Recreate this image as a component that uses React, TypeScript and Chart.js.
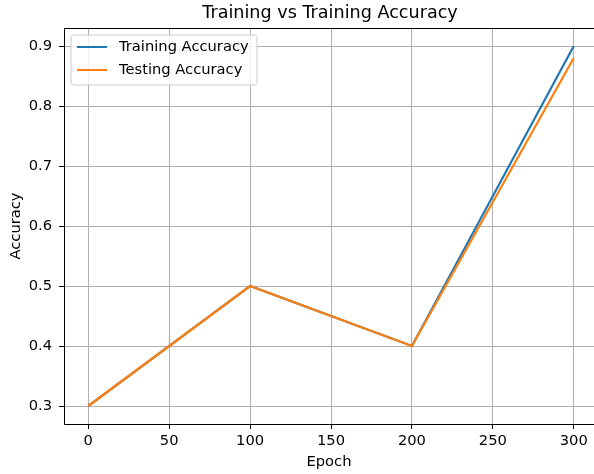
import React, { useEffect, useRef } from "react";
import { Chart, registerables } from "chart.js";

Chart.register(...registerables);

const epochs = [0, 100, 200, 300];
const trainingAccuracy = [0.3, 0.5, 0.4, 0.9];
const testingAccuracy = [0.3, 0.5, 0.4, 0.88];
const xTicks = [0, 50, 100, 150, 200, 250, 300];
const yTicks = [0.3, 0.4, 0.5, 0.6, 0.7, 0.8, 0.9];
const chartTitle = "Training vs Training Accuracy";
const xTitle = "Epoch";
const yTitle = "Accuracy";

const FONT = "'DejaVu Sans', sans-serif";
const BLUE = "#1f77b4";
const ORANGE = "#ff7f0e";
const TICK_FONT = 14.7;
const TITLE_FONT = 17.6;

const framePlugin = {
  id: "frame",
  afterDatasetsDraw(chart: any) {
    const { ctx, chartArea: a } = chart;
    const l = Math.round(a.left) + 0.5;
    const t = Math.round(a.top) + 0.5;
    const b = Math.round(a.bottom) + 0.5;
    const r = chart.width + 2;
    ctx.save();
    ctx.strokeStyle = "#000";
    ctx.lineWidth = 1;
    // left, top and bottom spines; the right spine lies past the picture's edge
    ctx.beginPath();
    ctx.moveTo(r, t);
    ctx.lineTo(l, t);
    ctx.lineTo(l, b);
    ctx.lineTo(r, b);
    ctx.stroke();
    ctx.restore();
  },
  afterDraw(chart: any) {
    const { ctx, chartArea: a } = chart;
    ctx.save();
    ctx.fillStyle = "#000";
    ctx.font = `${TITLE_FONT}px ${FONT}`;
    ctx.textAlign = "center";
    ctx.textBaseline = "middle";
    ctx.fillText(chartTitle, 330, 13);
    // legend
    const x0 = a.left + 7;
    const y0 = a.top + 7;
    const w = 186;
    const h = 50;
    const r = 3;
    ctx.beginPath();
    ctx.moveTo(x0 + r, y0);
    ctx.lineTo(x0 + w - r, y0);
    ctx.arcTo(x0 + w, y0, x0 + w, y0 + r, r);
    ctx.lineTo(x0 + w, y0 + h - r);
    ctx.arcTo(x0 + w, y0 + h, x0 + w - r, y0 + h, r);
    ctx.lineTo(x0 + r, y0 + h);
    ctx.arcTo(x0, y0 + h, x0, y0 + h - r, r);
    ctx.lineTo(x0, y0 + r);
    ctx.arcTo(x0, y0, x0 + r, y0, r);
    ctx.closePath();
    ctx.fillStyle = "rgba(255,255,255,0.8)";
    ctx.fill();
    ctx.strokeStyle = "#cccccc";
    ctx.lineWidth = 1;
    ctx.stroke();
    ctx.font = `${TICK_FONT}px ${FONT}`;
    ctx.textAlign = "left";
    ctx.textBaseline = "middle";
    chart.data.datasets.forEach((ds: any, i: number) => {
      const yy = y0 + 12 + i * 23;
      ctx.strokeStyle = ds.borderColor;
      ctx.lineWidth = 2;
      ctx.beginPath();
      ctx.moveTo(x0 + 6, yy);
      ctx.lineTo(x0 + 36, yy);
      ctx.stroke();
      ctx.fillStyle = "#000";
      ctx.fillText(ds.label, x0 + 48, yy);
    });
    ctx.restore();
  },
};

export default function App() {
  const ref = useRef<HTMLCanvasElement>(null);
  useEffect(() => {
    if (!ref.current) return;
    const chart = new Chart(ref.current, {
      type: "line",
      data: {
        datasets: [
          {
            label: "Training Accuracy",
            data: epochs.map((e, i) => ({ x: e, y: trainingAccuracy[i] })),
            borderColor: BLUE,
            backgroundColor: BLUE,
            borderWidth: 2.2,
            pointRadius: 0,
            tension: 0,
            order: 1,
          },
          {
            label: "Testing Accuracy",
            data: epochs.map((e, i) => ({ x: e, y: testingAccuracy[i] })),
            borderColor: ORANGE,
            backgroundColor: ORANGE,
            borderWidth: 2.2,
            pointRadius: 0,
            tension: 0,
            order: 0,
          },
        ],
      },
      options: {
        responsive: false,
        animation: false,
        devicePixelRatio: 1,
        layout: { padding: { top: 28, right: 0, left: 0, bottom: 0 } },
        plugins: {
          legend: { display: false },
          title: { display: false },
          tooltip: { enabled: false },
        },
        scales: {
          x: {
            type: "linear",
            min: -15,
            max: 312.5,
            afterBuildTicks: (s: any) => {
              s.ticks = xTicks.map((v) => ({ value: v }));
            },
            afterFit: (s: any) => {
              s.height = 50;
              s.paddingLeft = 0;
              s.paddingRight = 0;
            },
            grid: { color: "#b0b0b0", lineWidth: 1, tickColor: "#000", tickLength: 5 },
            border: { display: false },
            ticks: {
              color: "#000",
              font: { family: FONT, size: TICK_FONT },
              padding: 3,
              maxRotation: 0,
              callback: (v: any) => String(v),
            },
            title: {
              display: true,
              text: xTitle,
              color: "#000",
              font: { family: FONT, size: TICK_FONT },
              padding: { top: 0, bottom: 3 },
            },
          },
          y: {
            type: "linear",
            min: 0.27,
            max: 0.93,
            afterBuildTicks: (s: any) => {
              s.ticks = yTicks.map((v) => ({ value: v }));
            },
            afterFit: (s: any) => {
              s.width = 64;
              s.paddingTop = 0;
              s.paddingBottom = 0;
            },
            grid: { color: "#b0b0b0", lineWidth: 1, tickColor: "#000", tickLength: 5 },
            border: { display: false },
            ticks: {
              color: "#000",
              font: { family: FONT, size: TICK_FONT },
              padding: 7,
              callback: (v: any) => Number(v).toFixed(1),
            },
            title: {
              display: true,
              text: yTitle,
              color: "#000",
              font: { family: FONT, size: TICK_FONT },
              padding: { top: 7, bottom: 0 },
            },
          },
        },
      },
      plugins: [framePlugin],
    } as any);
    return () => chart.destroy();
  }, []);
  return (
    <div style={{ position: "fixed", left: 0, top: 0, width: 594, height: 474, overflow: "hidden", background: "#fff" }}>
      <canvas ref={ref} width={594} height={474} style={{ width: 594, height: 474, display: "block" }} />
    </div>
  );
}
